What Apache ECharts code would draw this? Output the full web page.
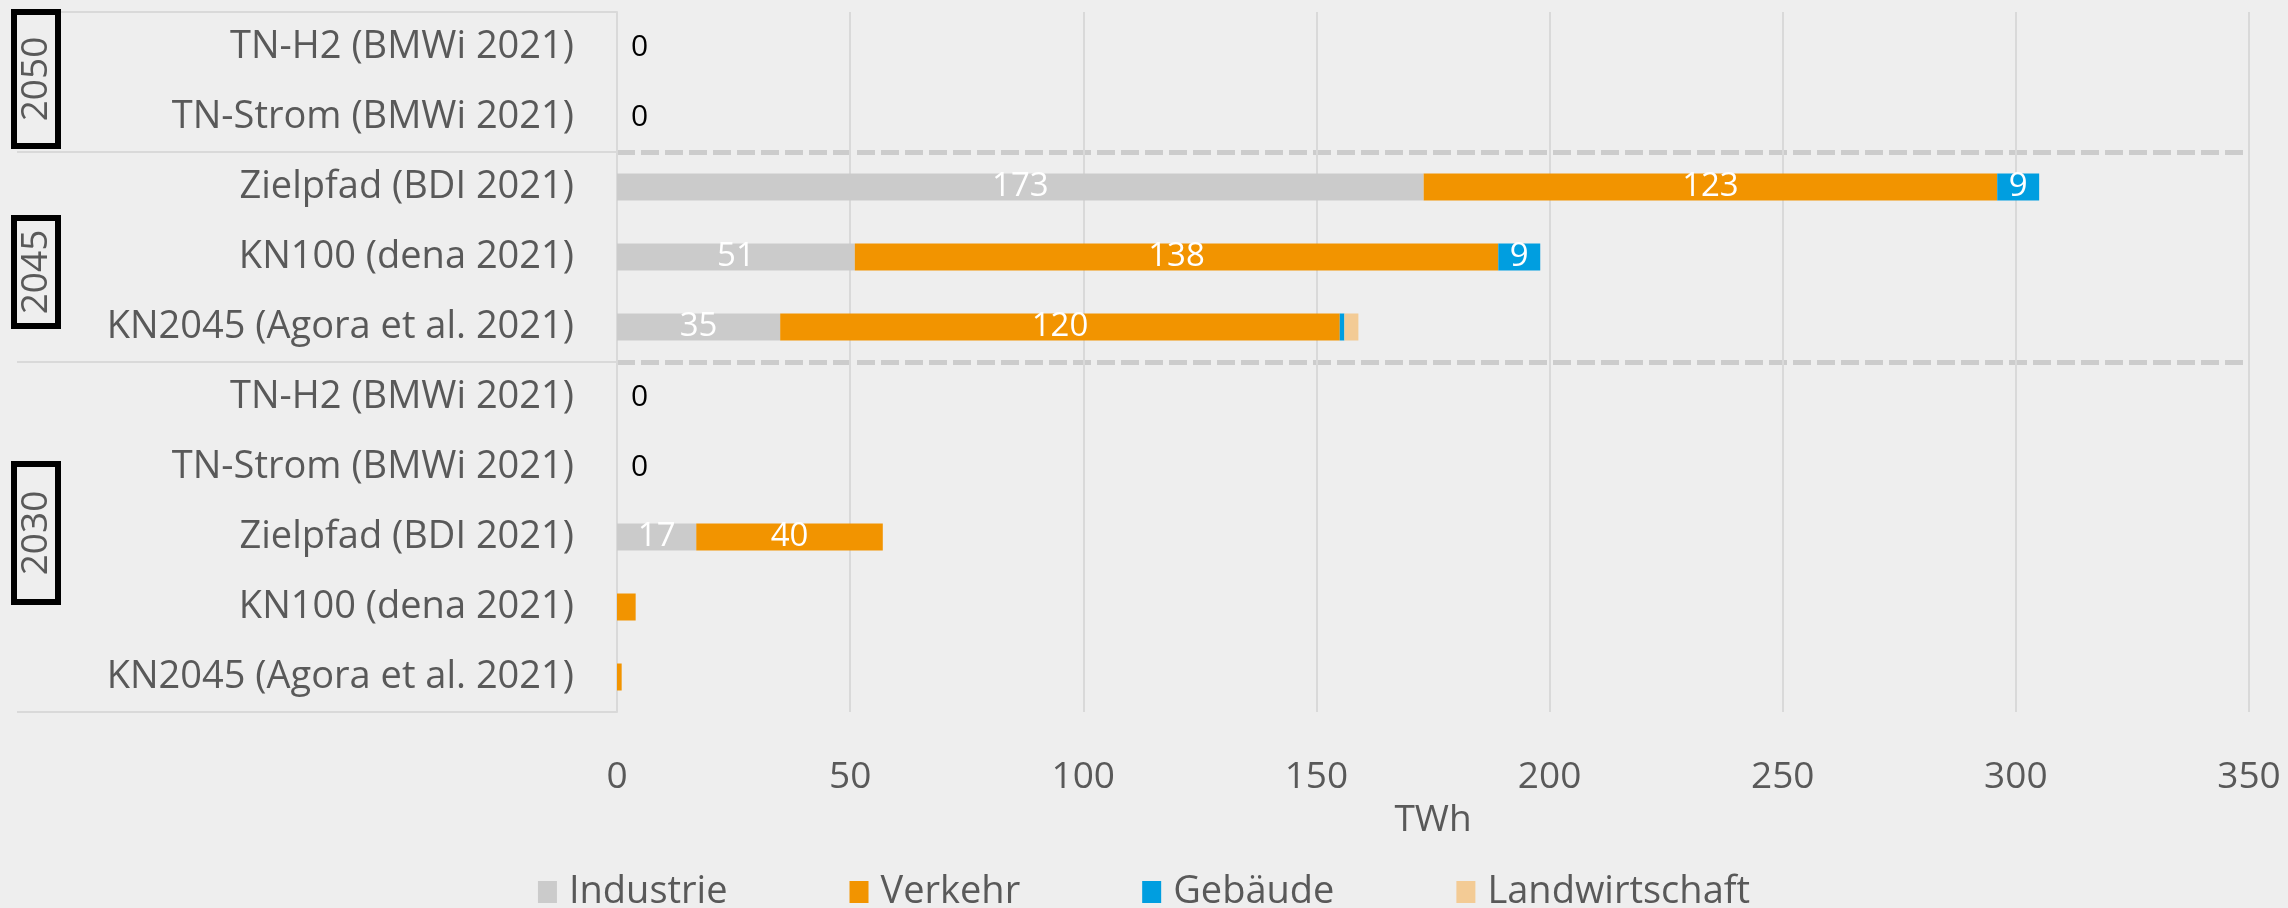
<!DOCTYPE html>
<html>
<head>
<meta charset="utf-8">
<script src="https://cdn.jsdelivr.net/npm/echarts@6/dist/echarts.min.js"></script>
<style>
html, body { margin: 0; padding: 0; background: #eeeeee; }
#chart { width: 2288px; height: 908px; }
</style>
</head>
<body>
<div id="chart"></div>
<script>
// categories top to bottom
var categories = [
    'TN-H2 (BMWi 2021)', 'TN-Strom (BMWi 2021)',
    'Zielpfad (BDI 2021)', 'KN100 (dena 2021)', 'KN2045 (Agora et al. 2021)',
    'TN-H2 (BMWi 2021)', 'TN-Strom (BMWi 2021)',
    'Zielpfad (BDI 2021)', 'KN100 (dena 2021)', 'KN2045 (Agora et al. 2021)'
];
var years = ['2050', '2045', '2030'];
var industrie = [0, 0, 173, 51, 35, 0, 0, 17, 0, 0];
var verkehr = [0, 0, 123, 138, 120, 0, 0, 40, 4, 1];
var gebaeude = [0, 0, 9, 9, 1, 0, 0, 0, 0, 0];
var landwirtschaft = [0, 0, 0, 0, 3, 0, 0, 0, 0, 0];
var xTicks = [0, 50, 100, 150, 200, 250, 300, 350];

var FONT = '"Open Sans", sans-serif';
var TXT = '#595959';
var gridTop = 12, gridHeight = 700, gridLeft = 617;
var rowH = gridHeight / categories.length;

var totals = industrie.map(function (v, i) {
    return v + verkehr[i] + gebaeude[i] + landwirtschaft[i];
});

var insideLabel = {
    show: true,
    position: 'inside',
    color: '#ffffff',
    fontFamily: FONT,
    fontSize: 33,
    formatter: function (p) { return p.value >= 5 ? p.value : ''; }
};

function makeSeries(name, values, color, withZero) {
    return {
        name: name,
        type: 'bar',
        stack: 'total',
        barWidth: 27,
        itemStyle: { color: color },
        label: insideLabel,
        data: values.map(function (v, i) {
            if (withZero && totals[i] === 0) {
                return {
                    value: v,
                    label: {
                        show: true, position: 'right', distance: 14,
                        color: '#000000', fontSize: 30, fontFamily: FONT,
                        formatter: '0'
                    }
                };
            }
            return v;
        })
    };
}

// left panel: row group separators and year boxes
var groupBounds = [0, 2, 5, 10];
var graphics = [];
groupBounds.forEach(function (r) {
    var y = gridTop + r * rowH;
    graphics.push({
        type: 'line', silent: true,
        shape: { x1: 17, y1: y, x2: gridLeft, y2: y },
        style: { stroke: '#d9d9d9', lineWidth: 2 }
    });
});
var boxes = [[12, 146], [218, 326], [464, 602]];
years.forEach(function (yr, k) {
    var b = boxes[k];
    graphics.push({
        type: 'rect', silent: true,
        shape: { x: 14, y: b[0], width: 44, height: b[1] - b[0] },
        style: { fill: '#eeeeee', stroke: '#000000', lineWidth: 6 }
    });
    graphics.push({
        type: 'text', silent: true,
        x: 36, y: (b[0] + b[1]) / 2, rotation: Math.PI / 2,
        style: {
            text: yr, fill: TXT, fontFamily: FONT, fontSize: 37,
            align: 'center', verticalAlign: 'middle'
        }
    });
});

var chart = echarts.init(document.getElementById('chart'));
var option = {
    backgroundColor: '#eeeeee',
    animation: false,
    grid: { left: gridLeft, right: 39, top: gridTop, height: gridHeight },
    legend: {
        top: 868, left: 'center',
        icon: 'rect', itemWidth: 19, itemHeight: 22, itemGap: 122,
        textStyle: { color: TXT, fontFamily: FONT, fontSize: 38, padding: [0, 0, 0, 7] },
        data: ['Industrie', 'Verkehr', 'Gebäude', 'Landwirtschaft']
    },
    xAxis: {
        type: 'value',
        min: xTicks[0], max: xTicks[xTicks.length - 1], interval: 50,
        name: 'TWh', nameLocation: 'middle', nameGap: 90,
        nameTextStyle: { color: TXT, fontFamily: FONT, fontSize: 37 },
        axisLine: { show: false },
        axisTick: { show: false },
        axisLabel: { color: TXT, fontFamily: FONT, fontSize: 37, margin: 47 },
        splitLine: { lineStyle: { color: '#d9d9d9', width: 2 } }
    },
    yAxis: {
        type: 'category',
        inverse: true,
        data: categories,
        axisLine: { lineStyle: { color: '#d9d9d9', width: 2 } },
        axisTick: { show: false },
        axisLabel: { color: TXT, fontFamily: FONT, fontSize: 38, margin: 43 },
        splitLine: {
            show: true,
            showMaxLine: false,
            interval: function (i) { return i === 2 || i === 5; },
            lineStyle: { color: '#cccccc', width: 5, type: [18, 6] }
        }
    },
    graphic: graphics,
    series: [
        makeSeries('Industrie', industrie, '#cbcbcb', true),
        makeSeries('Verkehr', verkehr, '#f29400', false),
        makeSeries('Gebäude', gebaeude, '#009ee0', false),
        makeSeries('Landwirtschaft', landwirtschaft, '#f3cb95', false)
    ]
};
chart.setOption(option);
window.addEventListener('resize', function () {
    chart.resize();
});
</script>
</body>
</html>
